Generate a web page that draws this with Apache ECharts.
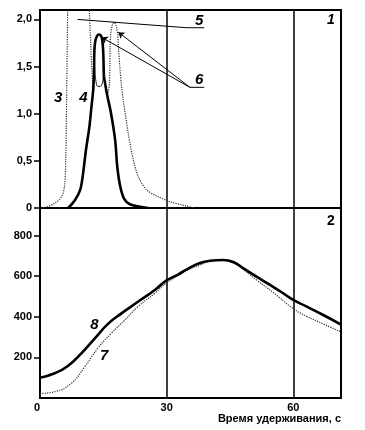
<!DOCTYPE html>
<html><head><meta charset="utf-8">
<script src="https://cdn.jsdelivr.net/npm/echarts@6/dist/echarts.min.js"></script>
<style>html,body{margin:0;padding:0;background:#fff}#c{width:365px;height:430px}</style>
</head><body><div id="c"></div><script>
// ---- data ----
const xTickValues = [0, 30, 60];
const topYTickValues = [0, 0.5, 1, 1.5, 2];
const bottomYTickValues = [200, 400, 600, 800];
const xTitle = 'Время удерживания, с';

// top panel (1)
const curve3 = [[0.5,0],[1.2,0.005],[3.5,0.05],[5.1,0.12],[5.8,0.23],[6.1,0.51],[6.3,1.15],[6.55,2.1],[6.8,2.8],[11.4,2.8],[11.7,2.1],[12.0,1.75],[12.3,1.45],[12.6,1.25]];
const curve4 = [[6.7,0],[8.3,0.085],[9.5,0.19],[10.1,0.33],[10.9,0.62],[11.7,0.86],[12.2,1.08],[12.6,1.25],[12.8,1.45],[12.85,1.62],[12.95,1.72],[13.2,1.79],[13.6,1.83],[14.0,1.84],[14.4,1.83],[14.75,1.78],[14.95,1.68],[15.05,1.55],[15.15,1.4],[15.5,1.3],[15.9,1.2],[16.8,1.01],[17.8,0.72],[18.3,0.44],[19.0,0.23],[19.9,0.1],[21.3,0.04],[23.7,0.014],[25.6,0]];
const curve4Loop = [[12.95,1.5],[13.2,1.36],[13.7,1.29],[14.3,1.29],[14.8,1.33],[15.05,1.45]];
const curve3Peak2 = [[15.9,1.2],[16.2,1.24],[16.45,1.32],[16.55,1.5],[16.6,1.7],[16.8,1.86],[17.2,1.95],[17.6,1.97],[18.0,1.94],[18.35,1.86],[18.6,1.7],[18.9,1.5],[19.3,1.3],[19.7,1.15],[20.3,0.97],[20.9,0.79],[21.5,0.64],[22.1,0.51],[23.3,0.33],[25.3,0.19],[28.0,0.12],[30.8,0.067],[34.8,0.02],[36.5,0]];

// bottom panel (2)
const curve8 = [[0,100],[3.5,122],[6.6,158],[9.8,220],[13.0,294],[16.1,365],[19.3,417],[23.2,474],[27.2,532],[29.9,578],[32.7,608],[35.3,640],[37.9,665],[40.3,676],[43.4,680],[45.8,670],[48.2,639],[51.3,598],[54.5,557],[57.6,516],[60.0,483],[63.2,450],[67.1,409],[71.3,362]];
const curve7 = [[0,22],[3.5,31],[7.4,72],[10.6,154],[13.7,245],[16.9,319],[20.1,384],[23.2,450],[27.2,516],[29.9,565],[35.1,631],[37.9,655],[40.3,675],[42.7,680],[45.0,671],[47.4,644],[51.3,581],[55.3,519],[60.0,440],[63.2,402],[67.1,365],[71.3,325]];

// annotations (data coordinates)
const leader5 = [[8.9,2.0],[34.75,1.912],[38.9,1.912]];
const leader6a = [[14.6,1.81],[35.5,1.28]];
const leader6b = [[18.55,1.865],[35.5,1.28]];
const leader6u = [[35.5,1.28],[38.9,1.28]];
const labelsTop = [['3',4.3,1.17],['4',10.3,1.17],['5',37.7,1.99],['6',37.7,1.36]];
const labelsBottom = [['8',12.9,360],['7',15.2,207]];
const panelTags = [['1',0,68.9,1.99,'italic'],['2',1,68.9,872,'normal']];

// ---- chart ----
const FONT = 'Liberation Sans, Arial, sans-serif';
const chart = echarts.init(document.getElementById('c'), null, {renderer:'canvas'});
const XMAX = 71.3;
function xAxis(i, showLabels){
  return {type:'value', gridIndex:i, min:0, max:XMAX, interval:30,
    axisLine:{show:false}, axisTick:{show:false},
    axisLabel:{show:showLabels, showMaxLabel:false, alignMinLabel:'right', margin:4, color:'#000', fontFamily:FONT, fontWeight:'bold', fontSize:11,
      formatter:v => (v % 30 === 0 ? String(v) : '')},
    splitLine:{show:true, lineStyle:{color:'#000', width:1.5}}};
}
chart.setOption({
  animation:false,
  grid:[
    {left:40, right:24, top:10, height:198, show:true, borderColor:'#000', borderWidth:2},
    {left:40, right:24, top:208, height:190, show:true, borderColor:'#000', borderWidth:2}
  ],
  xAxis:[xAxis(0,false), xAxis(1,true)],
  yAxis:[
    {type:'value', gridIndex:0, min:0, max:2.1,
      axisLine:{show:false},
      axisTick:{show:true, inside:false, length:6, customValues:topYTickValues, lineStyle:{color:'#000', width:1.5}},
      axisLabel:{customValues:topYTickValues, margin:8, color:'#000', fontFamily:FONT, fontWeight:'bold', fontSize:11,
        formatter:v => v === 0 ? '0' : v.toFixed(1).replace('.', ',')},
      splitLine:{show:false}},
    {type:'value', gridIndex:1, min:0, max:936,
      axisLine:{show:false},
      axisTick:{show:true, inside:false, length:6, customValues:bottomYTickValues, lineStyle:{color:'#000', width:1.5}},
      axisLabel:{customValues:bottomYTickValues, margin:8, color:'#000', fontFamily:FONT, fontWeight:'bold', fontSize:11},
      splitLine:{show:false}}
  ],
  series:[
    {type:'line', xAxisIndex:0, yAxisIndex:0, data:curve3, symbol:'none', smooth:0.3, clip:true, z:3,
      lineStyle:{color:'#333', width:1.2, type:'dotted'}},
    {type:'line', xAxisIndex:0, yAxisIndex:0, data:curve3Peak2, symbol:'none', smooth:0.3, clip:true, z:3,
      lineStyle:{color:'#333', width:1.2, type:'dotted'}},
    {type:'line', xAxisIndex:0, yAxisIndex:0, data:curve4, symbol:'none', smooth:0.3, z:5,
      lineStyle:{color:'#000', width:2.6}},
    {type:'line', xAxisIndex:0, yAxisIndex:0, data:curve4Loop, symbol:'none', smooth:0.4, z:4,
      lineStyle:{color:'#222', width:1}},
    {type:'line', xAxisIndex:0, yAxisIndex:0, data:leader5, symbol:'none', z:6,
      lineStyle:{color:'#000', width:1}},
    {type:'line', xAxisIndex:0, yAxisIndex:0, data:leader6u, symbol:'none', z:6,
      lineStyle:{color:'#000', width:1}},
    {type:'lines', coordinateSystem:'cartesian2d', xAxisIndex:0, yAxisIndex:0, z:6,
      symbol:['arrow','none'], symbolSize:6,
      lineStyle:{color:'#000', width:1, opacity:1, curveness:0},
      data:[{coords:leader6a},{coords:leader6b}]},
    {type:'line', xAxisIndex:1, yAxisIndex:1, data:curve7, symbol:'none', smooth:0.5, z:3,
      lineStyle:{color:'#333', width:1.2, type:'dotted'}},
    {type:'line', xAxisIndex:1, yAxisIndex:1, data:curve8, symbol:'none', smooth:0.5, z:5,
      lineStyle:{color:'#000', width:2.6}}
  ]
});

const g = [];
function addText(gridIndex, txt, x, y, style){
  const p = chart.convertToPixel({gridIndex:gridIndex}, [x, y]);
  g.push({type:'text', x:p[0], y:p[1], z:100,
    style:Object.assign({text:txt, fill:'#000', fontFamily:FONT, fontWeight:'bold', fontSize:15,
      fontStyle:'italic', align:'center', verticalAlign:'middle'}, style || {})});
}
labelsTop.forEach(l => addText(0, l[0], l[1], l[2]));
labelsBottom.forEach(l => addText(1, l[0], l[1], l[2]));
panelTags.forEach(t => addText(t[1], t[0], t[2], t[3], {fontStyle:t[4], fontSize:14}));
const br = chart.convertToPixel({gridIndex:1}, [XMAX, 0]);
g.push({type:'text', x:br[0], y:br[1] + 21, z:100,
  style:{text:xTitle, fill:'#000', fontFamily:FONT, fontWeight:'bold', fontSize:11, align:'right', verticalAlign:'middle'}});
chart.setOption({graphic:g});
</script></body></html>
